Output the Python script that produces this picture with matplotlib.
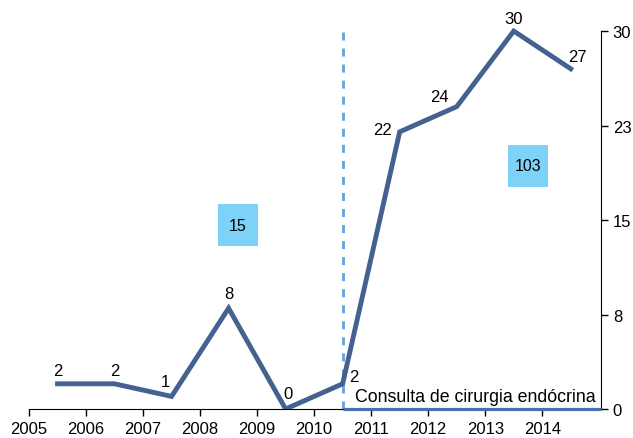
import matplotlib.pyplot as plt
from matplotlib.patches import Rectangle

plt.rcParams['font.family'] = ['Liberation Sans', 'DejaVu Sans']

years = [2005.5, 2006.5, 2007.5, 2008.5, 2009.5, 2010.5, 2011.5, 2012.5, 2013.5, 2014.5]
counts = [2, 2, 1, 8, 0, 2, 22, 24, 30, 27]
x_ticks = list(range(2005, 2015))
y_ticks = [0, 7.5, 15, 22.5, 30]
y_labels = ["0", "8", "15", "23", "30"]
split_year = 2010.5
totals = [15, 103]
note = "Consulta de cirurgia endócrina"

# layout (pixels / data positions)
total_pos = [(2008.66, 14.6), (2013.75, 19.3)]
label_off_px = [(0, 13), (0, 13), (-6, 15), (0, 15), (2, 15), (11, 7),
                (-17, 2), (-17, 10), (0, 13), (7, 12)]

line_color = "#44618f"
fs = 12

fig = plt.figure(figsize=(6.33, 4.39), dpi=100)
ax = fig.add_axes([29 / 633, 1 - 410 / 439, (601 - 29) / 633, (410 - 27) / 439])
xmax = 2015.03
ymax = 30.4
ax.set_xlim(2005, xmax)
ax.set_ylim(0, ymax)
px_x = (601 - 29) / (xmax - 2005)
px_y = (410 - 27) / ymax

ax.plot(years, counts, color=line_color, lw=3.5, solid_joinstyle='miter', zorder=3)

for (x, y), (dx, dy) in zip(zip(years, counts), label_off_px):
    ax.annotate(str(y), (x, y), xytext=(dx * 0.72, dy * 0.72), textcoords='offset points',
                ha='center', va='center', fontsize=fs)

ax.axvline(split_year, color="#6fa3dc", lw=2.1, ls=(0, (2.75, 2.75)), zorder=2)

bw, bh = 40 / px_x, 42 / px_y
for t, (x, y) in zip(totals, total_pos):
    ax.add_patch(Rectangle((x - bw / 2, y - bh / 2), bw, bh, fc="#7dd3f7", ec='none', zorder=1))
    ax.text(x, y, str(t), ha='center', va='center', fontsize=fs - 0.5, zorder=2)

ax.text(2010.72, 1.0, note, ha='left', va='center', fontsize=12.8)

# blue baseline after the split
ax.plot([split_year, xmax], [0, 0], color="#4a6fae", lw=2.3, zorder=4, clip_on=False,
        solid_capstyle='butt')

ax.spines['top'].set_visible(False)
ax.spines['left'].set_visible(False)
ax.spines['right'].set_bounds(0, 30)
ax.yaxis.tick_right()
ax.set_yticks(y_ticks)
ax.set_yticklabels(y_labels)
ax.set_xticks(x_ticks)
ax.tick_params(labelsize=fs, length=5, width=1)

fig.savefig("out.png", dpi=100)
